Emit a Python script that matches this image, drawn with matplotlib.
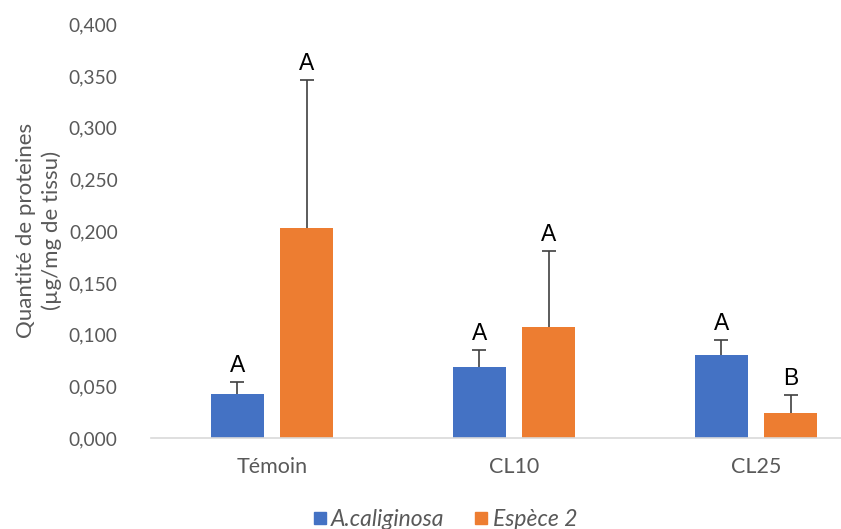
import matplotlib
matplotlib.use("Agg")
import matplotlib.pyplot as plt
import numpy as np
from matplotlib.ticker import FuncFormatter
from matplotlib.lines import Line2D

# Protein content per treatment and species
categories = ["Témoin", "CL10", "CL25"]
series_names = ["A.caliginosa", "Espèce 2"]
caliginosa = [0.043, 0.069, 0.080]
espece2 = [0.203, 0.107, 0.024]
caliginosa_err = [0.011, 0.016, 0.015]
espece2_err = [0.143, 0.074, 0.018]
caliginosa_letters = ["A", "A", "A"]
espece2_letters = ["A", "A", "B"]

blue = "#4472C4"
orange = "#ED7D31"
grey_text = "#595959"
font = ["Lato", "DejaVu Sans"]

fig = plt.figure(figsize=(8.41, 5.29), dpi=100)
ax = fig.add_axes([151 / 841, (529 - 438) / 529, 1 - 151 / 841, (438 - 24.5) / 529])

x = np.arange(len(categories))
width = 0.221
offset = 0.1436

err_style = dict(ecolor="#404040", elinewidth=1.2, capsize=4.7, capthick=1.2)

for vals, errs, letters, color, sign in [
    (caliginosa, caliginosa_err, caliginosa_letters, blue, -1),
    (espece2, espece2_err, espece2_letters, orange, 1),
]:
    pos = x + sign * offset
    ax.bar(pos, vals, width=width, color=color, zorder=2)
    # upper error bars only: hide the caps sitting on the bar tops
    eb = ax.errorbar(pos, vals, yerr=[np.zeros(len(vals)), errs], fmt="none",
                     zorder=3, **err_style)
    for cap in eb[1]:
        if np.allclose(cap.get_ydata(), vals):
            cap.set_visible(False)
    for xi, v, e, lab in zip(pos, vals, errs, letters):
        ax.annotate(lab, (xi, v + e), xytext=(0, 3.5), textcoords="offset points",
                    ha="center", va="bottom", fontsize=16.5,
                    family=["Liberation Sans", "DejaVu Sans"], color="black")

ax.set_xlim(-0.5, (841 - 272) / 242)
ax.set_ylim(0, 0.4)
ax.set_yticks(np.arange(0, 0.4001, 0.05))
ax.yaxis.set_major_formatter(FuncFormatter(lambda v, p: f"{v:.3f}".replace(".", ",")))
ax.set_xticks(x)
ax.set_xticklabels(categories)

for lab in ax.get_yticklabels():
    lab.set_family(font)
    lab.set_fontsize(13.8)
    lab.set_color(grey_text)
for lab in ax.get_xticklabels():
    lab.set_family(font)
    lab.set_fontsize(15.5)
    lab.set_color(grey_text)

ax.tick_params(axis="both", length=0)
ax.tick_params(axis="y", pad=24)
ax.tick_params(axis="x", pad=14)

for s in ["top", "right", "left"]:
    ax.spines[s].set_visible(False)
ax.spines["bottom"].set_color("#D9D9D9")
ax.spines["bottom"].set_linewidth(1.2)

fig.text(39 / 841, 1 - 230 / 529, "Quantité de proteines\n(µg/mg de tissu)",
         rotation=90, ha="center", va="center", fontsize=16,
         family=font, color=grey_text, linespacing=1.3)

handles = [Line2D([], [], marker="s", linestyle="none", markersize=9,
                  markerfacecolor=c, markeredgecolor=c) for c in (blue, orange)]
leg = fig.legend(handles, series_names, loc="center", ncol=2,
                 bbox_to_anchor=(444 / 841, 1 - 520 / 529), frameon=False,
                 handletextpad=0.1, columnspacing=1.2, handlelength=0.8,
                 prop={"family": font, "size": 16.5, "style": "italic"})
for t in leg.get_texts():
    t.set_color(grey_text)

fig.savefig("out.png", dpi=100)
